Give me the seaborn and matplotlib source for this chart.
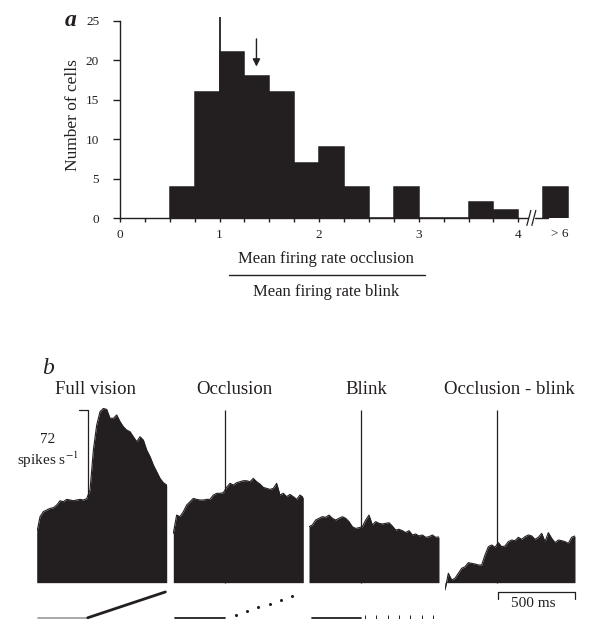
import numpy as np
import pandas as pd
import matplotlib
matplotlib.use("Agg")
import matplotlib.pyplot as plt
import seaborn as sns

# panel a: occlusion / blink firing-rate ratio histogram
bin_left = [0.5, 0.75, 1.0, 1.25, 1.5, 1.75, 2.0, 2.25, 2.75, 3.5, 3.75]
cell_counts = [4, 16, 21, 18, 16, 7, 9, 4, 4, 2, 1]
gt6_left = 4.25          # ">6" bin, drawn after the axis break
gt6_count = 4
ratio_labels = ["0", "1", "2", "3", "4"]
mean_ratio = 1.37

# panel b: PSTHs in spikes/s, 21.6 ms bins
bin_ms = 21.6
full_vision = [40, 53.4, 57.5, 58.8, 60.1, 60.7, 62.8, 66.3, 65.5, 67.4,
               66.9, 66.3, 66.9, 67.4, 66.9, 68.0, 75, 107.3, 127.6, 138.4,
               141, 140.2, 133, 133, 135.7, 130.3, 126.2, 123.5, 122.2, 118.1,
               114.1, 118.1, 115.4, 107.3, 102, 95.2, 89.8, 84.4, 80.9, 79]
occlusion = [39.9, 54.7, 53.4, 57.4, 62.8, 65.5, 68.2, 67.4, 66.9, 66.9,
             67.4, 67.4, 70.9, 72.3, 72.3, 72.8, 77.1, 80.4, 79, 80.9,
             81.7, 82.5, 82.5, 81.7, 84.4, 81.7, 79.8, 77.1, 76.3, 75.5,
             76.3, 80.4, 70.9, 72.3, 69.6, 71.4, 69.6, 67.4, 70.9, 69]
blink = [45.3, 46.7, 50.7, 52.1, 53.4, 52.9, 54.7, 52.1, 50.7, 52.1,
         53.4, 52.1, 49.4, 45.3, 43.9, 44.5, 45.3, 50.7, 54.7, 46.7,
         49.4, 48, 47.5, 48, 48.5, 45.8, 42.6, 43.2, 42.1, 40.5,
         42.1, 38.6, 39.4, 37.8, 38.6, 36.7, 37.2, 38.6, 36.7, 37]
occ_minus_blink = [-5.9, 7.6, 2.2, 3.5, 7.6, 11.6, 12.9, 16.2, 15.6, 15.1,
                   14.3, 14.3, 22.4, 29.1, 30.5, 28.6, 32.4, 29.1, 29.7, 33.2,
                   34.5, 34, 36.7, 35.1, 37.2, 38.6, 37.8, 35.1, 36.7, 39.9,
                   33.2, 40.5, 35.9, 32.4, 34.5, 34, 33.2, 31.8, 36.7, 37.8]
titles = ["Full vision", "Occlusion", "Blink", "Occlusion - blink"]
event_ms = 335
marker_top = 139.7
scale_rate = 72

# stimulus traces under the PSTHs (time ms, level)
fv_flat_t = [8, 331]
fv_ramp_t = [331, 834]
fv_ramp_y = [-28.4, -7.5]
occ_flat_t = [11, 335]
occ_dots_t = [407, 479, 551, 624, 696, 768]
occ_dots_y = [-26.1, -23.0, -20.0, -16.9, -13.9, -10.8]
blink_flat_t = [19, 335]
blink_ticks_t = [363, 436, 510, 583, 656, 730, 803]
trace_y = -28.4

ink = "#231f20"

sns.set_style("ticks")
plt.rcParams["font.family"] = ["Liberation Serif", "DejaVu Serif"]
plt.rcParams["mathtext.fontset"] = "stix"

W, H = 589, 619
fig = plt.figure(figsize=(W / 100, H / 100), dpi=100)

# ---------------- panel a
hist_df = pd.DataFrame({"ratio": np.array(bin_left) + 0.125, "n": cell_counts})
gt6_df = pd.DataFrame({"ratio": [gt6_left + 0.125], "n": [gt6_count]})

ax = fig.add_axes([120 / W, (H - 218.3) / H, 4.6 * 99.6 / W, 26 * 7.904 / H])
sns.histplot(data=hist_df, x="ratio", weights="n",
             binwidth=0.25, binrange=(0.5, 4.0), color=ink, alpha=1,
             edgecolor=ink, linewidth=1.1, ax=ax)
sns.histplot(data=gt6_df, x="ratio", weights="n",
             binwidth=0.25, binrange=(gt6_left, gt6_left + 0.25), color=ink,
             alpha=1, edgecolor=ink, linewidth=1.1, ax=ax)
ax.vlines(1.0, 0, 25.5, color=ink, lw=1.3)
ax.annotate("", xy=(mean_ratio, 19.2), xytext=(mean_ratio, 22.7),
            arrowprops=dict(arrowstyle="-|>", color=ink, lw=1.0,
                            mutation_scale=11, shrinkA=0, shrinkB=0))
ax.set_xlim(0, 4.6)
ax.set_ylim(0, 26)
sns.despine(ax=ax)
ax.spines["left"].set_bounds(0, 25)
ax.spines["bottom"].set_bounds(0, 4)
for s in ["left", "bottom"]:
    ax.spines[s].set_color(ink)
    ax.spines[s].set_linewidth(1.0)
xt = np.arange(0, 4.01, 0.25)
ax.set_xticks(xt)
ax.set_xticklabels([ratio_labels[int(v)] if v == int(v) else "" for v in xt])
ax.set_yticks([0, 5, 10, 15, 20, 25])
ax.tick_params(axis="x", length=3, width=1, pad=5, labelsize=9.5, colors=ink)
ax.tick_params(axis="y", length=5, width=1, pad=10, labelsize=9.5, colors=ink)
ax.text(4.42, -1.2, "> 6", ha="center", va="top", fontsize=9.5, color=ink)

# axis break after 4
ax.plot([4.0, 4.1], [0, 0], color=ink, lw=1.0, clip_on=False)
ax.plot([4.17, 4.3], [0, 0], color=ink, lw=1.0, clip_on=False)
ax.plot([4.085, 4.125], [-0.9, 1.0], color=ink, lw=0.9, clip_on=False)
ax.plot([4.135, 4.175], [-0.9, 1.0], color=ink, lw=0.9, clip_on=False)

ax.set_xlabel("")
ax.set_ylabel("Number of cells", fontsize=12.5, color=ink, va="center")
ax.yaxis.set_label_coords(-0.1026, 0.503)
ax.text(2.07, -5.15, "Mean firing rate occlusion", ha="center", va="center",
        fontsize=12, color=ink, clip_on=False)
ax.plot([1.094, 3.06], [-7.17, -7.17], color=ink, lw=1.0, clip_on=False)
ax.text(2.07, -9.3, "Mean firing rate blink", ha="center", va="center",
        fontsize=12, color=ink, clip_on=False)
fig.text(71 / W, 1 - 21 / H, "a", ha="center", va="center", fontsize=17,
         fontweight="bold", fontstyle="italic", color=ink)

# ---------------- panel b
t = np.arange(len(full_vision)) * bin_ms
lefts = [36.7, 173.3, 309, 445]
title_x = [95.5, 234, 366, 509]
series = [full_vision, occlusion, blink, occ_minus_blink]
axes_b = []
for i, (rates, left) in enumerate(zip(series, lefts)):
    axb = fig.add_axes([left / W, 1 - 618.5 / H, 130 / W, 215 / H])
    axb.fill_between(t, 0, rates, color=ink, lw=0)
    sns.lineplot(x=t, y=rates, color=ink, lw=0.8, ax=axb)
    axb.set_xlim(0, t[-1])
    axb.set_ylim(-29, 145)
    axb.axis("off")
    if i > 0:
        axb.vlines(event_ms, 0, marker_top, color=ink, lw=0.9)
    fig.text(title_x[i] / W, 1 - 390 / H, titles[i], ha="center", va="center",
             fontsize=13.5, color=ink)
    axes_b.append(axb)

# scale bar on full vision
a0 = axes_b[0]
a0.plot([event_ms - 58, event_ms, event_ms],
        [marker_top, marker_top, marker_top - scale_rate], color=ink, lw=0.9)
a0.text(73, 116, "72", ha="center", va="center", fontsize=11, color=ink)
a0.text(73, 99, "spikes s$^{-1}$", ha="center", va="center", fontsize=11,
        color=ink)
a0.plot(fv_flat_t, [trace_y, trace_y], color="#9a9a9a", lw=1.2, clip_on=False)
a0.plot(fv_ramp_t, fv_ramp_y, color=ink, lw=2.0, clip_on=False)

a1 = axes_b[1]
a1.plot(occ_flat_t, [trace_y, trace_y], color=ink, lw=1.3, clip_on=False)
a1.scatter(occ_dots_t, occ_dots_y, s=1.5, color=ink, clip_on=False)

a2 = axes_b[2]
a2.plot(blink_flat_t, [trace_y, trace_y], color=ink, lw=1.3, clip_on=False)
a2.vlines(blink_ticks_t, trace_y - 1, trace_y + 2.5, color=ink, lw=0.7,
          clip_on=False)

# 500 ms scale bar
a3 = axes_b[3]
a3.plot([t[-1] - 500, t[-1] - 500, t[-1], t[-1]], [-13.5, -7.5, -7.5, -13.5],
        color=ink, lw=0.9, clip_on=False)
a3.text(t[-1] - 270, -17, "500 ms", ha="center", va="center", fontsize=11,
        color=ink)

fig.text(48 / W, 1 - 369 / H, "b", ha="center", va="center", fontsize=17,
         fontstyle="italic", color=ink)

fig.savefig("out.png", dpi=100)
